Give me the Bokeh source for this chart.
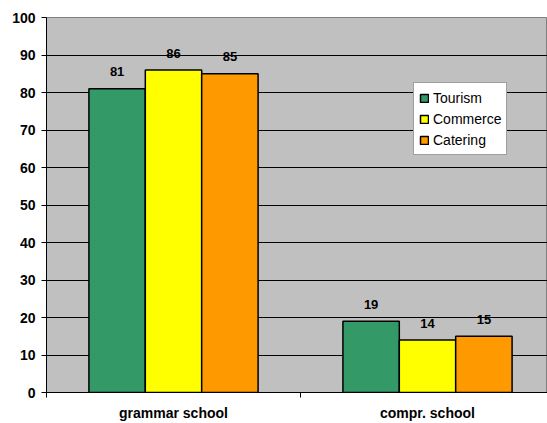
from bokeh.plotting import figure
from bokeh.models import (ColumnDataSource, Range1d, FixedTicker, Legend, LegendItem,
                          LabelSet)
from bokeh.core.properties import value
from bokeh.embed import file_html
from bokeh.resources import INLINE

# Data
schools = ["grammar school", "compr. school"]
tourism = [81, 19]
commerce = [86, 14]
catering = [85, 15]
series_names = ["Tourism", "Commerce", "Catering"]
series_colors = ["#339966", "#FFFF00", "#FF9900"]
y_ticks = [0, 10, 20, 30, 40, 50, 60, 70, 80, 90, 100]

FONT = "Liberation Sans"

p = figure(width=547, height=423, output_backend="svg", toolbar_location=None,
           x_range=Range1d(0, 501 / 254), y_range=Range1d(0, 100),
           min_border_left=46, min_border_right=0, min_border_top=17,
           min_border_bottom=30, background_fill_color="#C0C0C0",
           border_fill_color="white", outline_line_color="#808080")

centers = [i + 0.5 for i in range(len(schools))]
bar_w = 0.222
offsets = [-bar_w, 0.0, bar_w]

renderers = []
for name, vals, col, off in zip(series_names, [tourism, commerce, catering],
                                series_colors, offsets):
    src = ColumnDataSource(dict(x=[c + off for c in centers], top=vals,
                                lbl=[str(v) for v in vals]))
    r = p.vbar(x="x", top="top", width=bar_w, source=src, fill_color=col,
               line_color="black", line_width=1.5)
    renderers.append(r)
    p.add_layout(LabelSet(x="x", y="top", text="lbl", source=src,
                          text_align="center", text_baseline="middle",
                          y_offset=17, text_font=value(FONT),
                          text_font_size=value("13px"),
                          text_font_style=value("bold"),
                          text_color=value("black")))

# Grid
p.xgrid.grid_line_color = None
p.ygrid.ticker = FixedTicker(ticks=y_ticks)
p.ygrid.grid_line_color = "black"
p.ygrid.grid_line_width = 1

# Y axis
p.yaxis.ticker = FixedTicker(ticks=y_ticks)
p.yaxis.axis_line_color = "black"
p.yaxis.major_tick_in = 0
p.yaxis.major_tick_out = 5
p.yaxis.minor_tick_line_color = None
p.yaxis.major_label_standoff = 6
p.yaxis.major_label_text_font = FONT
p.yaxis.major_label_text_font_size = "14px"
p.yaxis.major_label_text_font_style = "bold"
p.yaxis.major_label_text_color = "black"

# X axis: names at category centres, tick marks between categories
p.xaxis.ticker = FixedTicker(ticks=centers, minor_ticks=[0, 1])
p.xaxis.major_label_overrides = {c: s for c, s in zip(centers, schools)}
p.xaxis.axis_line_color = "black"
p.xaxis.major_tick_in = 0
p.xaxis.major_tick_out = 0
p.xaxis.minor_tick_in = 0
p.xaxis.minor_tick_out = 5
p.xaxis.minor_tick_line_color = "black"
p.xaxis.major_label_standoff = 7
p.xaxis.major_label_text_font = FONT
p.xaxis.major_label_text_font_size = "14px"
p.xaxis.major_label_text_font_style = "bold"
p.xaxis.major_label_text_color = "black"

legend = Legend(items=[LegendItem(label=n, renderers=[r])
                       for n, r in zip(series_names, renderers)],
                location=(367, 237), orientation="vertical",
                background_fill_color="white", background_fill_alpha=1,
                border_line_color="#404040", border_line_width=1,
                padding=5, spacing=2, margin=0,
                glyph_width=10, glyph_height=10, label_standoff=4,
                label_height=19, label_text_font=FONT,
                label_text_font_size="14px", label_text_color="black")
p.add_layout(legend)

open("out.html", "w").write(file_html(p, INLINE))
